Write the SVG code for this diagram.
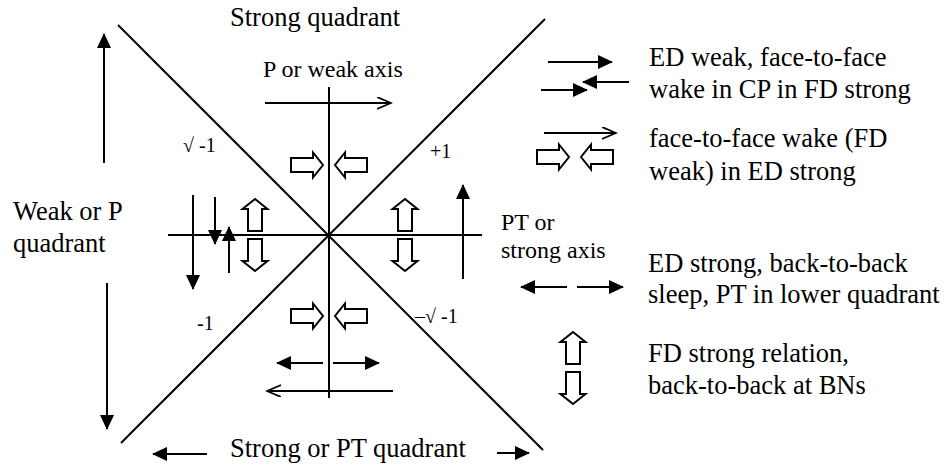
<svg xmlns="http://www.w3.org/2000/svg" width="946" height="466" viewBox="0 0 946 466">
<style>
  .ln{stroke:#000;stroke-width:2;fill:none}
  .ar{stroke:#000;stroke-width:2;fill:none;marker-end:url(#fh)}
  .ao{stroke:#000;stroke-width:2;fill:none;marker-end:url(#oh)}
  .blk{fill:#fff;stroke:#000;stroke-width:2;stroke-linejoin:miter}
  .t{font-size:26.5px}
  .m{font-size:24px}
  .s{font-size:20px}
</style>
<defs>
  <marker id="fh" markerUnits="userSpaceOnUse" markerWidth="16" markerHeight="15" refX="14" refY="7" orient="auto">
    <path d="M0,0 L15,7 L0,14 Z" fill="#000"/>
  </marker>
  <marker id="oh" markerUnits="userSpaceOnUse" markerWidth="16" markerHeight="14" refX="14" refY="6" orient="auto">
    <path d="M0,0 L14,6 L0,12" fill="none" stroke="#000" stroke-width="1.8"/>
  </marker>
  <path id="ba" d="M0,-7 H22 V-12.5 L32,0 L22,12.5 V7 H0 Z"/>
</defs>

<g id="axes">
  <line class="ln" x1="329" y1="87" x2="329" y2="398"/>
  <line class="ln" x1="168" y1="235" x2="482" y2="235"/>
  <line class="ln" x1="118" y1="25" x2="543" y2="450"/>
  <line class="ln" x1="121" y1="443" x2="545" y2="19"/>
</g>

<g id="connectors">
  <line class="ar" x1="104" y1="163" x2="104" y2="34"/>
  <line class="ar" x1="107" y1="283" x2="107" y2="429"/>
  <line class="ar" x1="207" y1="454" x2="153" y2="454"/>
  <line class="ar" x1="497" y1="453" x2="529" y2="453"/>
  <line class="ao" x1="265" y1="103" x2="391" y2="103"/>
  <line class="ar" x1="193" y1="195" x2="193" y2="289"/>
  <line class="ar" x1="215" y1="197" x2="215" y2="244"/>
  <line class="ar" x1="229" y1="273" x2="229" y2="227"/>
  <line class="ar" x1="463" y1="279" x2="463" y2="185"/>
  <line class="ar" x1="323" y1="363" x2="277" y2="363"/>
  <line class="ar" x1="333" y1="363" x2="379" y2="363"/>
  <line class="ao" x1="393" y1="391" x2="267" y2="391"/>
  <line class="ar" x1="548" y1="62" x2="612" y2="62"/>
  <line class="ar" x1="629" y1="82" x2="583" y2="82"/>
  <line class="ar" x1="541" y1="90" x2="587" y2="90"/>
  <line class="ao" x1="544" y1="133" x2="616" y2="133"/>
  <line class="ar" x1="567" y1="287" x2="521" y2="287"/>
  <line class="ar" x1="577" y1="287" x2="623" y2="287"/>
</g>

<g id="block-arrows">
  <use href="#ba" class="blk" transform="translate(291,165)"/>
  <use href="#ba" class="blk" transform="translate(367,165) rotate(180)"/>
  <use href="#ba" class="blk" transform="translate(291,316)"/>
  <use href="#ba" class="blk" transform="translate(367,316) rotate(180)"/>
  <use href="#ba" class="blk" transform="translate(255,231) rotate(-90)"/>
  <use href="#ba" class="blk" transform="translate(255,239) rotate(90)"/>
  <use href="#ba" class="blk" transform="translate(405,231) rotate(-90)"/>
  <use href="#ba" class="blk" transform="translate(405,239) rotate(90)"/>
  <use href="#ba" class="blk" transform="translate(537,157)"/>
  <use href="#ba" class="blk" transform="translate(613,157) rotate(180)"/>
  <use href="#ba" class="blk" transform="translate(573,364) rotate(-90)"/>
  <use href="#ba" class="blk" transform="translate(573,372) rotate(90)"/>
</g>

<g id="labels" font-family="'Liberation Serif', 'DejaVu Serif', serif" fill="#000">
  <text class="t" x="230" y="26">Strong quadrant</text>
  <text class="m" x="263" y="77">P or weak axis</text>
  <text class="s" x="183" y="152">√ -1</text>
  <text class="s" x="430" y="158">+1</text>
  <text class="s" x="197" y="330">-1</text>
  <text class="s" x="415" y="323">–√ -1</text>
  <text class="t" x="13" y="220">Weak or P</text>
  <text class="t" x="13" y="252">quadrant</text>
  <text class="m" x="501" y="230">PT or</text>
  <text class="m" x="501" y="258">strong axis</text>
  <text class="t" x="230" y="457">Strong or PT quadrant</text>
</g>

<g id="legend" font-family="'Liberation Serif', 'DejaVu Serif', serif" fill="#000">
  <text class="t" x="649" y="66">ED weak, face-to-face</text>
  <text class="t" x="649" y="98">wake in CP in FD strong</text>
  <text class="t" x="649" y="147">face-to-face wake (FD</text>
  <text class="t" x="649" y="180">weak) in ED strong</text>
  <text class="t" x="648" y="272">ED strong, back-to-back</text>
  <text class="t" x="648" y="303">sleep, PT in lower quadrant</text>
  <text class="t" x="648" y="362">FD strong relation,</text>
  <text class="t" x="648" y="394">back-to-back at BNs</text>
</g>
</svg>
